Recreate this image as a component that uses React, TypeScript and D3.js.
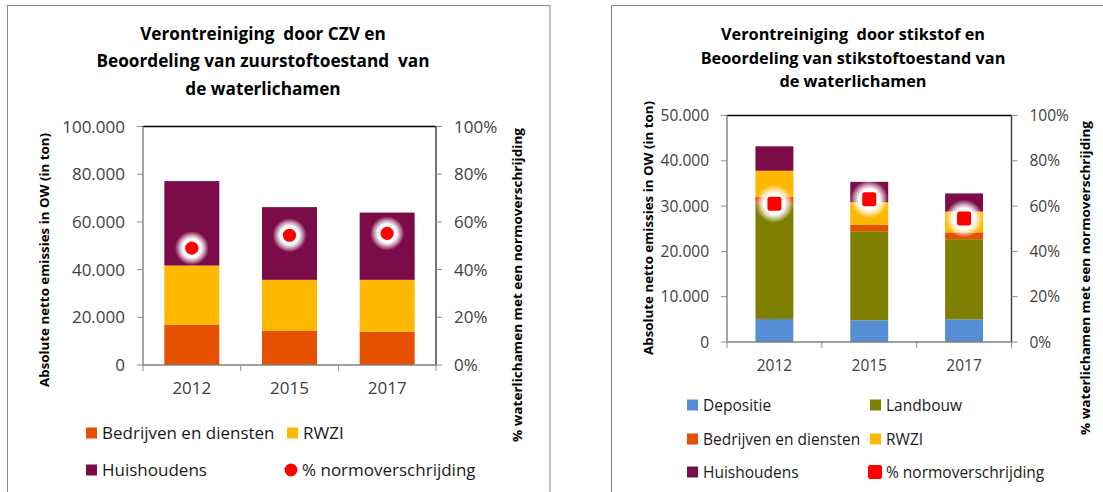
import React from 'react';
import * as d3 from 'd3';

// ---------- data ----------
const years = ['2012', '2015', '2017'];

// CZV chart (ton)
const czvBedrijven = [16900, 14400, 13900];
const czvRwzi = [24800, 21300, 21800];
const czvHuishoudens = [35400, 30500, 28200];
const czvNorm = [0.49, 0.544, 0.552];

// Stikstof chart (ton)
const nDepositie = [5100, 4800, 5000];
const nLandbouw = [25400, 19650, 17700];
const nBedrijven = [1600, 1400, 1500];
const nRwzi = [5700, 5000, 4600];
const nHuishoudens = [5400, 4500, 4000];
const nNorm = [0.61, 0.63, 0.545];

const czvTicks = [0, 20000, 40000, 60000, 80000, 100000];
const nTicks = [0, 10000, 20000, 30000, 40000, 50000];
const pctTicks = [0, 0.2, 0.4, 0.6, 0.8, 1];

const czvTitle = ['Verontreiniging  door CZV en', 'Beoordeling van zuurstoftoestand  van', 'de waterlichamen'];
const nTitle = ['Verontreiniging  door stikstof en', 'Beoordeling van stikstoftoestand van', 'de waterlichamen'];
const yTitle = 'Absolute netto emissies in OW (in ton)';
const y2Title = '% waterlichamen met een normoverschrijding';
const normLabel = '% normoverschrijding';

const C = {
  depositie: '#558ED5',
  landbouw: '#7F7F00',
  bedrijven: '#E65100',
  rwzi: '#FFB800',
  huishoudens: '#7B0C47',
  norm: '#FF0000',
};

const nl = d3.formatLocale({ decimal: ',', thousands: '.', grouping: [3], currency: ['€', ''] });
const fmtNum = nl.format(',.0f');
const fmtPct = d3.format('.0%');

const FONT = "'Open Sans', 'Noto Sans', sans-serif";

type Series = { key: string; label: string; values: number[]; color: string };

type ChartProps = {
  id: string;
  plot: { left: number; right: number; top: number; bottom: number };
  yMax: number;
  yTicks: number[];
  series: Series[];
  norm: number[];
  marker: 'circle' | 'square';
  padding: number;
  title: string[];
  titleX: number;
  titleY0: number;
  titleDy: number;
  titleSize: number;
  fontSize: number;
  yTitlePos: [number, number];
  y2TitlePos: [number, number];
  xLabelY: number;
  legend: { x: number; y: number; key: string }[];
  frame: { x: number; y: number; w: number; h: number };
};

function Chart(p: ChartProps) {
  const { plot } = p;
  const x = d3.scaleBand<string>().domain(years).range([plot.left, plot.right]).paddingInner(p.padding).paddingOuter(p.padding / 2);
  const y = d3.scaleLinear().domain([0, p.yMax]).range([plot.bottom, plot.top]);
  const y2 = d3.scaleLinear().domain([0, 1]).range([plot.bottom, plot.top]);

  const rows = years.map((yr, i) => {
    const r: any = { year: yr };
    p.series.forEach((s) => (r[s.key] = s.values[i]));
    return r;
  });
  const stacked = d3.stack<any>().keys(p.series.map((s) => s.key))(rows);
  const colorOf = (k: string) => (k === 'norm' ? C.norm : p.series.find((s) => s.key === k)!.color);
  const labelOf = (k: string) => (k === 'norm' ? normLabel : p.series.find((s) => s.key === k)!.label);

  const boundaries = [plot.left, ...years.map((yr) => x(yr)! + x.bandwidth() / 2 + x.step() / 2)];
  const fs = p.fontSize;

  return (
    <g>
      <rect x={p.frame.x} y={p.frame.y} width={p.frame.w} height={p.frame.h} fill="#fff" stroke="#878787" strokeWidth={1} />
      {/* title */}
      {p.title.map((t, i) => (
        <text key={i} x={p.titleX} y={p.titleY0 + i * p.titleDy} textAnchor="middle" fontFamily={FONT} fontWeight="bold" fontSize={p.titleSize} fill="#000" style={{ whiteSpace: 'pre' }}>
          {t}
        </text>
      ))}
      {/* bars */}
      {stacked.map((layer) => (
        <g key={layer.key} fill={colorOf(layer.key)}>
          {layer.map((d, i) => (
            <rect key={i} x={x(years[i])} width={x.bandwidth()} y={y(d[1])} height={y(d[0]) - y(d[1])} />
          ))}
        </g>
      ))}
      {/* plot frame and axes */}
      <line x1={plot.left} x2={plot.right} y1={plot.top} y2={plot.top} stroke="#000" strokeWidth={1.6} />
      <line x1={plot.right} x2={plot.right} y1={plot.top} y2={plot.bottom} stroke="#3a3a3a" strokeWidth={1.4} />
      <line x1={plot.left} x2={plot.left} y1={plot.top} y2={plot.bottom} stroke="#7f7f7f" strokeWidth={1.4} />
      <line x1={plot.left} x2={plot.right} y1={plot.bottom} y2={plot.bottom} stroke="#7f7f7f" strokeWidth={1.4} />
      {p.yTicks.map((t) => (
        <g key={'l' + t}>
          <line x1={plot.left - 6} x2={plot.left} y1={y(t)} y2={y(t)} stroke="#8c8c8c" strokeWidth={1} />
          <text x={plot.left - 18} y={y(t)} dy="0.36em" textAnchor="end" fontFamily={FONT} fontSize={fs} fill="#404040">
            {fmtNum(t)}
          </text>
        </g>
      ))}
      {pctTicks.map((t) => (
        <g key={'r' + t}>
          <line x1={plot.right} x2={plot.right + 6} y1={y2(t)} y2={y2(t)} stroke="#8c8c8c" strokeWidth={1} />
          <text x={plot.right + 18} y={y2(t)} dy="0.36em" textAnchor="start" fontFamily={FONT} fontSize={fs} fill="#404040">
            {fmtPct(t)}
          </text>
        </g>
      ))}
      {boundaries.map((bx, i) => (
        <line key={'xt' + i} x1={bx} x2={bx} y1={plot.bottom} y2={plot.bottom + 6} stroke="#8c8c8c" strokeWidth={1} />
      ))}
      {years.map((yr) => (
        <text key={yr} x={x(yr)! + x.bandwidth() / 2} y={p.xLabelY} textAnchor="middle" fontFamily={FONT} fontSize={fs} fill="#404040">
          {yr}
        </text>
      ))}
      {/* norm markers with soft white halo */}
      {p.norm.map((v, i) => {
        const cx = x(years[i])! + x.bandwidth() / 2;
        const cy = y2(v);
        return (
          <g key={'m' + i}>
            <circle cx={cx} cy={cy} r={p.marker === 'circle' ? 17 : 19} fill={`url(#halo-${p.id})`} />
            {p.marker === 'circle' ? (
              <circle cx={cx} cy={cy} r={6.6} fill={C.norm} />
            ) : (
              <rect x={cx - 7} y={cy - 7} width={14} height={14} rx={2.5} fill={C.norm} />
            )}
          </g>
        );
      })}
      {/* axis titles */}
      <text transform={`translate(${p.yTitlePos[0]},${p.yTitlePos[1]}) rotate(-90)`} dy="0.35em" textAnchor="middle" fontFamily={FONT} fontWeight="bold" fontSize={13} textLength={254} lengthAdjust="spacingAndGlyphs" fill="#000">
        {yTitle}
      </text>
      <text transform={`translate(${p.y2TitlePos[0]},${p.y2TitlePos[1]}) rotate(-90)`} dy="0.35em" textAnchor="middle" fontFamily={FONT} fontWeight="bold" fontSize={13} textLength={314} lengthAdjust="spacingAndGlyphs" fill="#000">
        {y2Title}
      </text>
      {/* legend */}
      {p.legend.map((l) => (
        <g key={'lg' + l.key}>
          {l.key === 'norm' ? (
            p.marker === 'circle' ? (
              <circle cx={l.x + 5} cy={l.y} r={6.4} fill={C.norm} />
            ) : (
              <rect x={l.x - 2} y={l.y - 7} width={14} height={14} rx={2} fill={C.norm} />
            )
          ) : (
            <rect x={l.x} y={l.y - 5.5} width={11} height={11} fill={colorOf(l.key)} />
          )}
          <text x={l.x + 16} y={l.y} dy="0.36em" fontFamily={FONT} fontSize={fs} fill="#1a1a1a">
            {labelOf(l.key)}
          </text>
        </g>
      ))}
    </g>
  );
}

export default function App() {
  const czvSeries: Series[] = [
    { key: 'bedrijven', label: 'Bedrijven en diensten', values: czvBedrijven, color: C.bedrijven },
    { key: 'rwzi', label: 'RWZI', values: czvRwzi, color: C.rwzi },
    { key: 'huishoudens', label: 'Huishoudens', values: czvHuishoudens, color: C.huishoudens },
  ];
  const nSeries: Series[] = [
    { key: 'depositie', label: 'Depositie', values: nDepositie, color: C.depositie },
    { key: 'landbouw', label: 'Landbouw', values: nLandbouw, color: C.landbouw },
    { key: 'bedrijven', label: 'Bedrijven en diensten', values: nBedrijven, color: C.bedrijven },
    { key: 'rwzi', label: 'RWZI', values: nRwzi, color: C.rwzi },
    { key: 'huishoudens', label: 'Huishoudens', values: nHuishoudens, color: C.huishoudens },
  ];
  return (
    <svg width={1103} height={492} viewBox="0 0 1103 492" style={{ position: 'absolute', left: 0, top: 0, display: 'block', background: '#fff' }}>
      <defs>
        {['czv', 'n'].map((id) => (
          <radialGradient key={id} id={`halo-${id}`} cx="50%" cy="50%" r="50%">
            <stop offset="0%" stopColor="#fff" stopOpacity={1} />
            <stop offset="55%" stopColor="#fff" stopOpacity={1} />
            <stop offset="75%" stopColor="#fff" stopOpacity={0.6} />
            <stop offset="100%" stopColor="#fff" stopOpacity={0} />
          </radialGradient>
        ))}
      </defs>
      <rect x={0} y={0} width={1103} height={492} fill="#fff" />
      <Chart
        id="czv"
        plot={{ left: 143, right: 436, top: 126.5, bottom: 365 }}
        yMax={100000}
        yTicks={czvTicks}
        series={czvSeries}
        norm={czvNorm}
        marker="circle"
        padding={0.437}
        title={czvTitle}
        titleX={263}
        titleY0={39.5}
        titleDy={27.5}
        titleSize={17.2}
        fontSize={17}
        yTitlePos={[44, 260]}
        y2TitlePos={[517, 285]}
        xLabelY={394}
        legend={[
          { x: 86, y: 433, key: 'bedrijven' },
          { x: 287, y: 433, key: 'rwzi' },
          { x: 86, y: 470, key: 'huishoudens' },
          { x: 286, y: 470, key: 'norm' },
        ]}
        frame={{ x: 7.5, y: 5.5, w: 542.5, h: 520 }}
      />
      <Chart
        id="n"
        plot={{ left: 727, right: 1011.5, top: 115.5, bottom: 342 }}
        yMax={50000}
        yTicks={nTicks}
        series={nSeries}
        norm={nNorm}
        marker="square"
        padding={0.6}
        title={nTitle}
        titleX={853}
        titleY0={40}
        titleDy={23.5}
        titleSize={16.3}
        fontSize={15.5}
        yTitlePos={[648, 228]}
        y2TitlePos={[1085, 278]}
        xLabelY={371}
        legend={[
          { x: 687, y: 405, key: 'depositie' },
          { x: 870, y: 405, key: 'landbouw' },
          { x: 687, y: 439, key: 'bedrijven' },
          { x: 870, y: 439, key: 'rwzi' },
          { x: 687, y: 472, key: 'huishoudens' },
          { x: 870, y: 472, key: 'norm' },
        ]}
        frame={{ x: 611.5, y: 5.5, w: 520, h: 520 }}
      />
    </svg>
  );
}
